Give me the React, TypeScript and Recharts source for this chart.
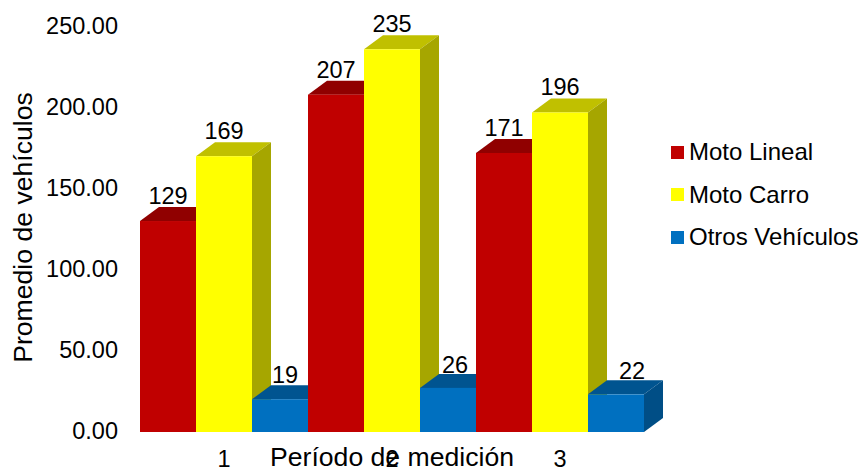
import { BarChart, Bar, XAxis, YAxis, Legend, LabelList } from 'recharts';

const categories = ['1', '2', '3'];
const motoLineal = [129, 207, 171];
const motoCarro = [169, 235, 196];
const otrosVehiculos = [19, 26, 22];
const valueTicks = [0, 50, 100, 150, 200, 250];

const chartData = categories.map((period, i) => ({
  period,
  lineal: motoLineal[i],
  carro: motoCarro[i],
  otros: otrosVehiculos[i]
}));

const FONT = '"Liberation Sans", Arial, sans-serif';
const DEPTH_X = 19;
const DEPTH_Y = 14;
// the bars sit a little below the value axis zero
const FLOOR_DROP = 2;
// short blue boxes carry their labels nudged off the centre of the front face
const OTROS_LABEL_DX = [5, 7, 16];
const OTROS_LABEL_DY = [1, 2, 2];

interface Box3DProps {
  x: number;
  y: number;
  width: number;
  height: number;
  index: number;
  front: string;
  top: string;
  side: string;
  clipToBand?: boolean;
}

function Box3D({ x, y, width, height, index, front, top, side, clipToBand }: Box3DProps) {
  const bottom = y + height + FLOOR_DROP;
  const right = x + width;
  // the next group's first bar hides whatever would stick out past the band
  const hideDepth = clipToBand && index < categories.length - 1;
  const topRight = hideDepth ? right : right + DEPTH_X;

  return (
    <g>
      <polygon
        points={`${x},${y} ${x + DEPTH_X},${y - DEPTH_Y} ${topRight},${y - DEPTH_Y} ${right},${y}`}
        fill={top}
      />
      {!hideDepth && (
        <polygon
          points={`${right},${y} ${right + DEPTH_X},${y - DEPTH_Y} ${right + DEPTH_X},${bottom - DEPTH_Y} ${right},${bottom}`}
          fill={side}
        />
      )}
      <rect x={x} y={y} width={width} height={bottom - y} fill={front} />
    </g>
  );
}

function LegendBox({ payload }: any) {
  return (
    <div style={{ fontFamily: FONT, fontSize: 24, color: '#000' }}>
      {(payload || []).map((entry: any) => (
        <div key={entry.value} style={{ display: 'flex', alignItems: 'center', height: 42.5, whiteSpace: 'nowrap' }}>
          <span style={{ width: 13, height: 13, background: entry.color, marginRight: 5, flex: 'none' }} />
          {entry.value}
        </div>
      ))}
    </div>
  );
}

const labelStyle = { fill: '#000', fontSize: 23.5, fontFamily: FONT };

function OtrosLabel({ x, y, width, value, index }: any) {
  return (
    <text
      x={x + width / 2 + OTROS_LABEL_DX[index]}
      y={y - 17 + OTROS_LABEL_DY[index]}
      textAnchor="middle"
      {...labelStyle}
    >
      {value}
    </text>
  );
}

export default function App() {
  return (
    <div style={{ position: 'absolute', left: 0, top: 0, background: '#fff' }}>
      <BarChart
        width={860}
        height={469}
        data={chartData}
        margin={{ top: 25, right: 27, bottom: 0, left: 0 }}
        barCategoryGap={0}
        barGap={0}
        style={{ fontFamily: FONT }}
      >
        <XAxis
          dataKey="period"
          height={39}
          axisLine={false}
          tickLine={false}
          tickMargin={14}
          tick={{ fill: '#000', fontSize: 23.5 }}
          label={{ value: 'Período de medición', position: 'insideBottom', offset: 0, dy: -3, fill: '#000', fontSize: 26.6 }}
        />
        <YAxis
          width={140}
          domain={[0, 250]}
          ticks={valueTicks}
          axisLine={false}
          tickLine={false}
          tickMargin={16}
          tickFormatter={(v: number) => v.toFixed(2)}
          tick={{ fill: '#000', fontSize: 23.5, dy: 1 }}
          label={{ value: 'Promedio de vehículos', angle: -90, position: 'insideLeft', dx: 18, dy: 0, fill: '#000', fontSize: 26.6, style: { textAnchor: 'middle' } }}
        />
        <Legend
          layout="vertical"
          align="right"
          verticalAlign="top"
          itemSorter={null}
          content={<LegendBox />}
          wrapperStyle={{ left: 671, top: 131, width: 189 }}
        />
        <Bar
          dataKey="lineal"
          name="Moto Lineal"
          fill="#C00000"
          isAnimationActive={false}
          shape={(p: any) => <Box3D {...p} front="#C00000" top="#900000" side="#900000" />}
        >
          <LabelList dataKey="lineal" position="top" offset={17} style={labelStyle} />
        </Bar>
        <Bar
          dataKey="carro"
          name="Moto Carro"
          fill="#FFFF00"
          isAnimationActive={false}
          shape={(p: any) => <Box3D {...p} front="#FFFF00" top="#C0C000" side="#A6A600" />}
        >
          <LabelList dataKey="carro" position="top" offset={17} style={labelStyle} />
        </Bar>
        <Bar
          dataKey="otros"
          name="Otros Vehículos"
          fill="#0070C0"
          isAnimationActive={false}
          shape={(p: any) => <Box3D {...p} front="#0070C0" top="#005490" side="#004E86" clipToBand />}
        >
          <LabelList dataKey="otros" content={<OtrosLabel />} />
        </Bar>
      </BarChart>
    </div>
  );
}
